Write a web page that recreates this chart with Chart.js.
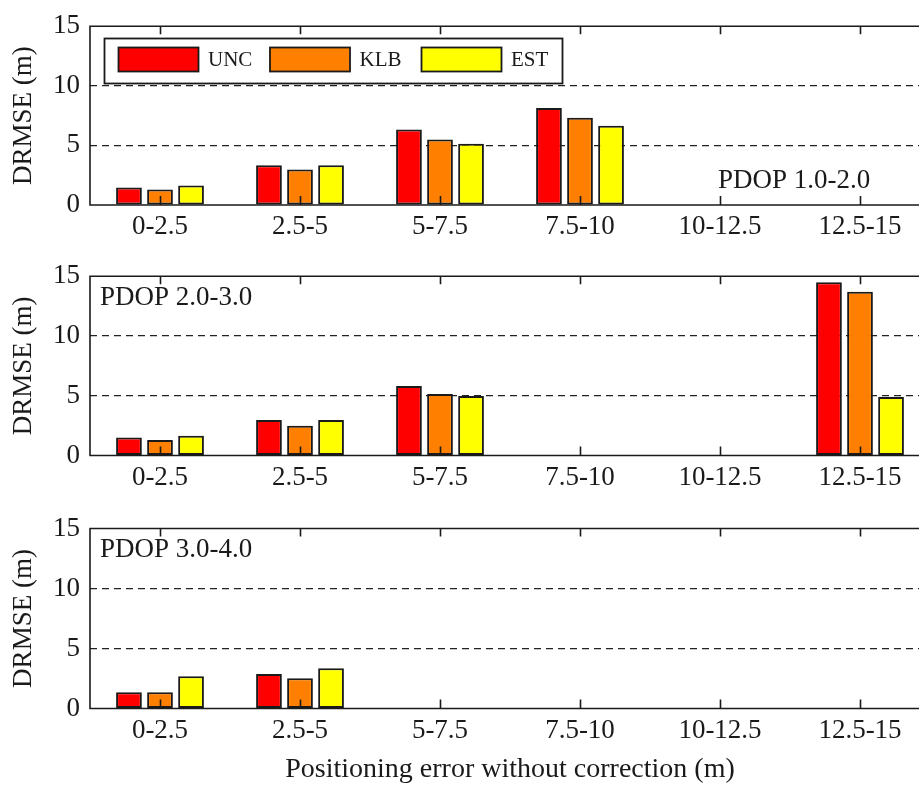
<!DOCTYPE html>
<html>
<head>
<meta charset="utf-8">
<script src="https://cdn.jsdelivr.net/npm/chart.js@4.4.1/dist/chart.umd.min.js"></script>
<style>
    html, body { margin: 0; padding: 0; background: #fff; }
    #wrap { position: relative; width: 919px; height: 785px; overflow: hidden; }
    canvas { position: absolute; left: 0; }
</style>
</head>
<body>
<div id="wrap">
    <canvas id="p1" width="935" height="250" style="top:0px"></canvas>
    <canvas id="p2" width="935" height="250" style="top:250px"></canvas>
    <canvas id="p3" width="935" height="285" style="top:500px"></canvas>
</div>
<script>
'use strict';

// Data
const categories = ['0-2.5', '2.5-5', '5-7.5', '7.5-10', '10-12.5', '12.5-15'];
const seriesNames = ['UNC', 'KLB', 'EST'];
const seriesColors = ['#ff0000', '#ff8000', '#ffff00'];
const yTicks = [0, 5, 10, 15];

const pdop1Unc = [1.47, 3.33, 6.33, 8.14, null, null];
const pdop1Klb = [1.31, 2.97, 5.5, 7.31, null, null];
const pdop1Est = [1.64, 3.33, 5.14, 6.64, null, null];

const pdop2Unc = [1.5, 2.96, 5.82, null, null, 14.5];
const pdop2Klb = [1.3, 2.48, 5.15, null, null, 13.7];
const pdop2Est = [1.66, 2.96, 4.98, null, null, 4.9];

const pdop3Unc = [1.35, 2.88, null, null, null, null];
const pdop3Klb = [1.35, 2.52, null, null, null, null];
const pdop3Est = [2.68, 3.35, null, null, null, null];

const panelLabels = ['PDOP 1.0-2.0', 'PDOP 2.0-3.0', 'PDOP 3.0-4.0'];

const FONT = '"Liberation Serif", "Times New Roman", serif';
const INK = '#1a1a1a';

Chart.defaults.font.family = FONT;
Chart.defaults.color = INK;

/**
 * Draws the box frame, the inward x ticks, the panel label and (optionally) the legend
 */
const framePlugin = {
    id: 'frame',
    afterDatasetsDraw(chart, args, opts) {
        const { ctx, chartArea } = chart;
        const { left, right, top, bottom } = chartArea;
        const x = chart.scales.x;

        ctx.save();
        ctx.strokeStyle = INK;
        ctx.lineWidth = 1.6;
        ctx.beginPath();
        ctx.moveTo(right + 5, top);
        ctx.lineTo(left, top);
        ctx.lineTo(left, bottom);
        ctx.lineTo(right + 5, bottom);
        x.ticks.forEach((t, i) => {
            const px = Math.round(x.getPixelForTick(i)) + 0.5;
            ctx.moveTo(px, bottom);
            ctx.lineTo(px, bottom - 9);
            ctx.moveTo(px, top);
            ctx.lineTo(px, top + 8);
        });
        ctx.stroke();

        // panel label
        ctx.fillStyle = INK;
        ctx.font = '27px ' + FONT;
        ctx.textBaseline = 'middle';
        ctx.textAlign = 'left';
        const ly = opts.labelFromBottom ? bottom - opts.labelDy : top + opts.labelDy;
        ctx.fillText(opts.label, opts.labelX, ly);

        if (opts.legend) {
            const lx = 104, lt = 38, lw = 458, lh = 45;
            ctx.fillStyle = '#fff';
            ctx.fillRect(lx, lt, lw, lh);
            ctx.lineWidth = 1.8;
            ctx.strokeRect(lx + 0.5, lt + 0.5, lw, lh);
            ctx.font = '21px ' + FONT;
            chart.data.datasets.forEach((ds, i) => {
                const bx = 118 + i * 151.5;
                ctx.fillStyle = ds.backgroundColor;
                ctx.fillRect(bx, 47, 80, 24);
                ctx.strokeRect(bx + 0.5, 47.5, 80, 24);
                ctx.fillStyle = INK;
                ctx.fillText(ds.label, bx + 90, 60);
            });
        }
        ctx.restore();
    }
};

/**
 * Create one grouped bar panel
 * @param {string} canvasId - The ID of the canvas element
 * @param {Array} values - One array per series
 * @param {Object} cfg - Layout settings for this panel
 */
function createPanel(canvasId, values, cfg) {
    const ctx = document.getElementById(canvasId);
    if (!ctx) {
        console.error(`Canvas element with id "${canvasId}" not found`);
        return null;
    }

    const datasets = values.map((data, i) => ({
        label: seriesNames[i],
        data: data,
        backgroundColor: seriesColors[i],
        borderColor: INK,
        borderWidth: 2,
        borderSkipped: false,
        categoryPercentage: 0.665,
        barPercentage: 0.83
    }));

    return new Chart(ctx, {
        type: 'bar',
        data: { labels: categories, datasets: datasets },
        plugins: [framePlugin],
        options: {
            responsive: false,
            animation: false,
            layout: { padding: { top: cfg.padTop, right: 5, left: 0, bottom: 0 } },
            plugins: {
                legend: { display: false },
                tooltip: { enabled: false },
                frame: cfg.frame
            },
            scales: {
                x: {
                    offset: true,
                    grid: { display: false },
                    border: { display: false },
                    ticks: {
                        autoSkip: false,
                        maxRotation: 0,
                        minRotation: 0,
                        padding: -2,
                        font: { size: 27 }
                    },
                    title: {
                        display: !!cfg.xTitle,
                        text: cfg.xTitle || '',
                        font: { size: 28, lineHeight: 1.1 },
                        padding: { top: 0, bottom: 0 }
                    },
                    afterFit: scale => { scale.height = cfg.xHeight; }
                },
                y: {
                    min: 0,
                    max: 15,
                    afterBuildTicks: scale => { scale.ticks = yTicks.map(v => ({ value: v })); },
                    grid: {
                        drawTicks: false,
                        lineWidth: 1.2,
                        color: c => (c.tick && (c.tick.value === 5 || c.tick.value === 10)) ? '#222' : 'rgba(0,0,0,0)'
                    },
                    border: { display: false, dash: [7, 5] },
                    ticks: { padding: 10, font: { size: 27 } },
                    title: {
                        display: true,
                        text: 'DRMSE (m)',
                        font: { size: 27 },
                        padding: { top: 8, bottom: 0 }
                    },
                    afterFit: scale => { scale.width = 90; }
                }
            }
        }
    });
}

createPanel('p1', [pdop1Unc, pdop1Klb, pdop1Est], {
    padTop: 25, xHeight: 45,
    frame: { label: panelLabels[0], labelX: 718, labelDy: 24, labelFromBottom: true, legend: true }
});
createPanel('p2', [pdop2Unc, pdop2Klb, pdop2Est], {
    padTop: 25.5, xHeight: 44.5,
    frame: { label: panelLabels[1], labelX: 100, labelDy: 22, legend: false }
});
createPanel('p3', [pdop3Unc, pdop3Klb, pdop3Est], {
    padTop: 28.5, xHeight: 76.5,
    xTitle: 'Positioning error without correction (m)',
    frame: { label: panelLabels[2], labelX: 100, labelDy: 21.5, legend: false }
});
</script>
</body>
</html>
